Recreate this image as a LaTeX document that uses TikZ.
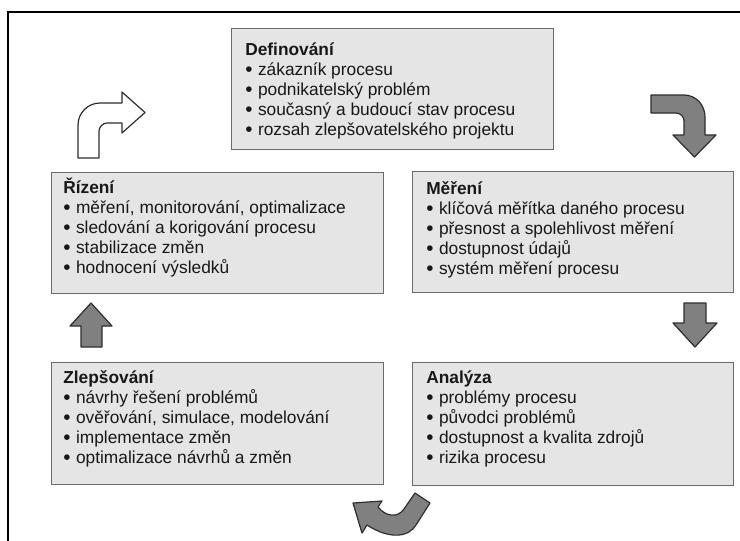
\documentclass[tikz,border=0pt]{standalone}
\usepackage{fontspec}
\setmainfont{Liberation Sans}
\definecolor{boxfill}{HTML}{E5E5E5}
\definecolor{boxline}{HTML}{6B6B6B}
\definecolor{arrowfill}{HTML}{808080}
\definecolor{arrowline}{HTML}{2E2E2E}
\definecolor{ink}{HTML}{181818}
\tikzset{
  panel/.style={draw=boxline, fill=boxfill, line width=0.9pt, anchor=north west, inner sep=0pt},
  panetext/.style={anchor=north west, inner sep=0pt, align=left, text=ink,
    font=\fontsize{13}{15}\selectfont},
  blockarrow/.style={fill=arrowfill, draw=arrowline, line width=0.9pt, line join=round},
  hollowarrow/.style={fill=white, draw=arrowline, line width=0.9pt, line join=round},
  frameline/.style={draw=black, line width=1.6pt}
}
\newcommand{\headstrut}{\rule{0pt}{12pt}}
% slightly enlarged list bullet followed by a word space
\newcommand{\itm}{\raisebox{-0.6pt}{\fontsize{15.5}{15}\selectfont •}\hspace{0.32em}}
\begin{document}
\begin{tikzpicture}[x=0.75pt, y=-0.75pt]
  \useasboundingbox (0,0) rectangle (740,540);
  \fill[white] (0,0) rectangle (740,540);

  % outer frame (top and left edges)
  \coordinate (frameBL) at (8,540);
  \coordinate (frameTL) at (8,12);
  \coordinate (frameTR) at (740,12);
  \draw[frameline, line cap=rect] (frameBL) -- (frameTL) -- (frameTR);

  % panels
  \node[panel, minimum width=241.5pt, minimum height=90.75pt] (def) at (231,28) {};
  \node[panel, minimum width=249pt, minimum height=90.75pt] (riz) at (51,172) {};
  \node[panel, minimum width=240.75pt, minimum height=90.75pt] (mer) at (412,171) {};
  \node[panel, minimum width=249pt, minimum height=91.5pt] (zle) at (51,362) {};
  \node[panel, minimum width=240.75pt, minimum height=92.25pt] (ana) at (412,362) {};

  % panel texts
  \node[panetext] (deftxt) at ([shift={(14,11)}]def.north west)
    {\headstrut\textbf{Definování}\\\itm zákazník procesu\\\itm podnikatelský problém\\\itm současný a budoucí stav procesu\\\itm rozsah zlepšovatelského projektu};
  \node[panetext] (riztxt) at ([shift={(12,5)}]riz.north west)
    {\headstrut\textbf{Řízení}\\\itm měření, monitorování, optimalizace\\\itm sledování a korigování procesu\\\itm stabilizace změn\\\itm hodnocení výsledků};
  \node[panetext] (mertxt) at ([shift={(14,7)}]mer.north west)
    {\headstrut\textbf{Měření}\\\itm klíčová měřítka daného procesu\\\itm přesnost a spolehlivost měření\\\itm dostupnost údajů\\\itm systém měření procesu};
  \node[panetext] (zletxt) at ([shift={(12,5)}]zle.north west)
    {\headstrut\textbf{Zlepšování}\\\itm návrhy řešení problémů\\\itm ověřování, simulace, modelování\\\itm implementace změn\\\itm optimalizace návrhů a změn};
  \node[panetext] (anatxt) at ([shift={(14,5)}]ana.north west)
    {\headstrut\textbf{Analýza}\\\itm problémy procesu\\\itm původci problémů\\\itm dostupnost a kvalita zdrojů\\\itm rizika procesu};

  % hollow turning arrow, upper left
  \draw[hollowarrow] (78,158) -- (78,125)
    .. controls (78,112.9) and (87.9,103) .. (100,103)
    -- (122,103) -- (122,92) -- (145,112.5) -- (122,133) -- (122,123)
    -- (107,123) .. controls (102.6,123) and (99,127.4) .. (99,131)
    -- (99,158) -- cycle;

  % turning arrow, upper right
  \draw[blockarrow] (651,95) -- (684,95)
    .. controls (696,95) and (705,105) .. (705,117)
    -- (705,135) -- (716,135) -- (694.5,157) -- (673,135) -- (684,135)
    -- (684,121) .. controls (684,116.6) and (680.4,113) .. (676,113)
    -- (651,113) -- cycle;

  % straight arrow down, right side
  \draw[blockarrow] (684,303) -- (706,303) -- (706,323) -- (717,323)
    -- (695,347) -- (673,323) -- (684,323) -- cycle;

  % straight arrow up, left side
  \draw[blockarrow] (81,347) -- (81,326) -- (70,326) -- (91,303)
    -- (112,326) -- (102,326) -- (102,347) -- cycle;

  % turning arrow, bottom
  \draw[blockarrow] (430,503) -- (416,525)
    .. controls (409,537) and (390,540) .. (367,525)
    -- (362,533) -- (353,503) -- (382,501) -- (378,507)
    .. controls (386,517) and (398,518) .. (404,509)
    -- (415,493) -- cycle;
\end{tikzpicture}
\end{document}
